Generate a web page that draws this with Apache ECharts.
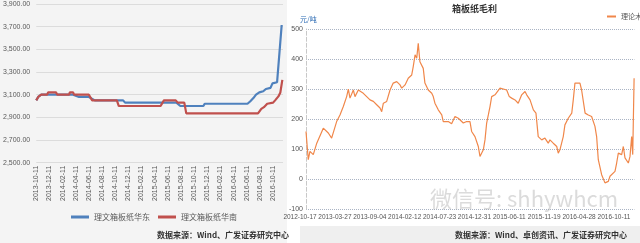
<!DOCTYPE html>
<html><head><meta charset="utf-8">
<script src="https://cdn.jsdelivr.net/npm/echarts@6/dist/echarts.min.js"></script>
<style>html,body{margin:0;padding:0;background:#fff}#c{width:640px;height:243px}</style>
</head><body><div id="c"></div>
<script>
// ---------- Left chart: 理文箱板纸 prices (x = months since 2013-10-11) ----------
const leftTicks = ['2013-10-11','2013-12-11','2014-02-11','2014-04-11','2014-06-11','2014-08-11','2014-10-11','2014-12-11','2015-02-11','2015-04-11','2015-06-11','2015-08-11','2015-10-11','2015-12-11','2016-02-11','2016-04-11','2016-06-11','2016-08-11','2016-10-11'];
const leftSeriesNames = ['理文箱板纸华东','理文箱板纸华南'];
const eastMonths = [0,0.3,0.76,5.6,5.9,6.5,8.0,8.3,8.9,13.2,13.5,21.3,21.9,25.4,25.6,32.1,32.5,33.0,33.4,33.9,34.5,34.9,35.6,35.9,36.6,36.9,37.3];
const eastValues = [3050,3080,3100,3100,3090,3080,3080,3070,3050,3050,3030,3030,3000,3000,3020,3020,3040,3070,3100,3120,3130,3150,3160,3200,3210,3220,3715];
const southMonths = [0,0.3,0.76,1.66,1.8,3.0,3.2,5.0,5.1,5.6,5.75,8.0,8.5,12.25,12.55,18.9,19.2,19.4,21.2,21.5,22.5,22.8,33.7,34.2,34.6,35.1,36.0,36.3,36.8,37.1,37.4];
const southValues = [3050,3080,3100,3100,3120,3120,3100,3100,3120,3120,3100,3100,3050,3050,3000,3000,2985,3050,3050,3030,3030,2935,2935,2975,2990,3020,3030,3050,3085,3120,3230];

// ---------- Right chart: 箱板纸毛利 (x = weeks since 2012-10-17) ----------
const rightTicks = ['2012-10-17','2013-03-27','2013-09-04','2014-02-12','2014-07-23','2014-12-31','2015-06-11','2015-11-19','2016-04-28','2016-10-11'];
const rightSeriesName = '理论木浆箱板纸毛利';
const marginWeeks = [0,1.5,2.6,4.8,7.1,11.4,14.7,16.9,20.2,22.4,24.6,26.8,27.9,29.0,31.2,32.3,34.5,37.8,40.0,42.2,44.4,46.6,48.8,49.9,51.0,53.2,55.4,57.5,59.8,62.0,63.1,65.3,67.4,69.7,70.7,71.9,73.0,74.0,75.1,77.3,78.4,80.6,82.9,83.9,85.0,87.2,89.5,90.5,91.6,93.8,96.0,98.2,100.4,103.7,105.9,108.1,109.2,111.4,113.6,114.7,115.8,116.9,118.0,119.1,120.2,121.3,122.4,124.6,127.9,129.0,132.3,134.0,135.6,137.8,139.9,142.2,144.4,145.5,147.7,149.9,151.6,153.1,155.4,157.5,159.7,160.8,163.0,165.3,166.3,167.4,169.6,170.7,172.9,175.2,176.2,177.3,178.4,180.6,181.7,184.0,186.1,188.3,190.5,191.6,192.7,194.9,197.1,199.3,200.4,203.7,204.8,205.9,208.1,209.2,210.3,212.5,213.6,214.7,215.4,216.3];
const marginValues = [159,65,93,82,120,170,154,137,192,214,242,275,300,270,297,275,297,286,275,264,259,248,237,225,253,259,297,320,325,314,303,314,336,347,375,414,403,452,391,369,320,297,286,275,253,231,214,192,187,192,185,209,203,187,192,192,159,142,109,76,71,98,131,187,214,242,275,281,303,308,297,275,270,264,253,281,292,281,264,231,220,142,131,137,120,131,120,109,87,98,142,181,203,220,264,320,325,320,297,220,214,209,176,142,65,15,-12,-7,10,26,54,87,82,109,71,54,76,142,82,336];

const zip = (a,b) => a.map((v,i) => [v, b[i]]);
const F = 'Liberation Sans, Noto Sans CJK SC, sans-serif';
const weekFmt = v => (Number.isInteger(v/23) && rightTicks[v/23]) ? rightTicks[v/23] : '';

const chart = echarts.init(document.getElementById('c'), null, {renderer:'canvas'});
chart.setOption({
  animation: false,
  backgroundColor: '#ffffff',
  textStyle: {fontFamily: F},
  graphic: [
    {type:'rect', z:-10, silent:true, shape:{x:0,y:0,width:287,height:243}, style:{fill:'#f4f4f4'}},
    {type:'rect', z:-10, silent:true, shape:{x:300,y:226,width:340,height:17}, style:{fill:'#efefef'}},
    {type:'text', left:157, top:231, style:{text:'数据来源：Wind、广发证券研究中心', fill:'#333', font:'bold 8px Noto Sans CJK SC'}},
    {type:'text', left:455, top:231, style:{text:'数据来源：Wind、卓创资讯、广发证券研究中心', fill:'#333', font:'bold 8px Noto Sans CJK SC'}},
    {type:'text', left:452, top:4, style:{text:'箱板纸毛利', fill:'#333', font:'bold 9px Noto Sans CJK SC'}},
    {type:'text', left:300, top:16, style:{text:'元/吨', fill:'#2f6db5', font:'7px Noto Sans CJK SC'}},
    {type:'text', left:430, top:188, z:100, style:{text:'微信号: shhywhcm', fill:'rgba(160,160,160,0.38)', font:'22px Noto Sans CJK SC'}}
  ],
  legend: [
    {data: leftSeriesNames, left: 66, top: 208, itemWidth: 18, itemHeight: 3, icon: 'rect', itemGap: 8,
     textStyle:{fontSize:8, color:'#595959', fontFamily:'Noto Sans CJK SC'}},
    {data: [rightSeriesName], left: 602, top: 8, itemWidth: 9, itemHeight: 2, icon: 'rect', itemGap: 2,
     textStyle:{fontSize:7, color:'#555', fontFamily:'Noto Sans CJK SC'}}
  ],
  grid: [
    {left: 35, top: 4, width: 248, height: 158.7},
    {left: 306, top: 29, width: 328.4, height: 180.3},
    {left: 300, top: 29, width: 328.4, height: 180.3}
  ],
  xAxis: [
    {type:'value', gridIndex:0, min:0, max:37.5, interval:2,
     axisLine:{show:false}, axisTick:{show:false}, splitLine:{show:false},
     axisLabel:{rotate:90, fontSize:7, color:'#595959', margin:3, showMinLabel:true, showMaxLabel:false,
       formatter: v => (Number.isInteger(v/2) && leftTicks[v/2]) ? leftTicks[v/2] : ''}},
    {type:'value', gridIndex:1, min:0, max:216.5, interval:23,
     axisLine:{show:false}, axisTick:{show:false}, splitLine:{show:false}, axisLabel:{show:false}},
    {type:'value', gridIndex:2, min:0, max:216.5, interval:23,
     axisLine:{show:false}, axisTick:{show:false}, splitLine:{show:false},
     axisLabel:{fontSize:6.5, color:'#555', margin:5, showMinLabel:true, showMaxLabel:false, formatter: weekFmt}}
  ],
  yAxis: [
    {type:'value', gridIndex:0, min:2500, max:3900, interval:200,
     axisLine:{show:false}, axisTick:{show:false},
     splitLine:{lineStyle:{color:'#dcdcdc', width:1}},
     axisLabel:{fontSize:7, color:'#595959', margin:6,
       formatter: v => v.toLocaleString('en-US',{minimumFractionDigits:2, maximumFractionDigits:2})}},
    {type:'value', gridIndex:1, min:-100, max:500, interval:100,
     axisLine:{show:true, lineStyle:{color:'#c8c8c8', type:'dashed'}}, axisTick:{show:false},
     splitLine:{lineStyle:{color:'#aab4c4', type:'dotted', width:1}},
     axisLabel:{fontSize:7, color:'#555', margin:3}},
    {type:'value', gridIndex:2, min:-100, max:500, show:false, splitLine:{show:false}}
  ],
  series: [
    {name: leftSeriesNames[0], type:'line', xAxisIndex:0, yAxisIndex:0, data: zip(eastMonths, eastValues),
     showSymbol:false, lineStyle:{color:'#4f81bd', width:2.2}, itemStyle:{color:'#4f81bd'}},
    {name: leftSeriesNames[1], type:'line', xAxisIndex:0, yAxisIndex:0, data: zip(southMonths, southValues),
     showSymbol:false, lineStyle:{color:'#c0504d', width:2.2}, itemStyle:{color:'#c0504d'}},
    {name: rightSeriesName, type:'line', xAxisIndex:1, yAxisIndex:1, data: zip(marginWeeks, marginValues),
     showSymbol:false, lineStyle:{color:'#f0874a', width:1.2}, itemStyle:{color:'#f0874a'}}
  ]
});
</script></body></html>
